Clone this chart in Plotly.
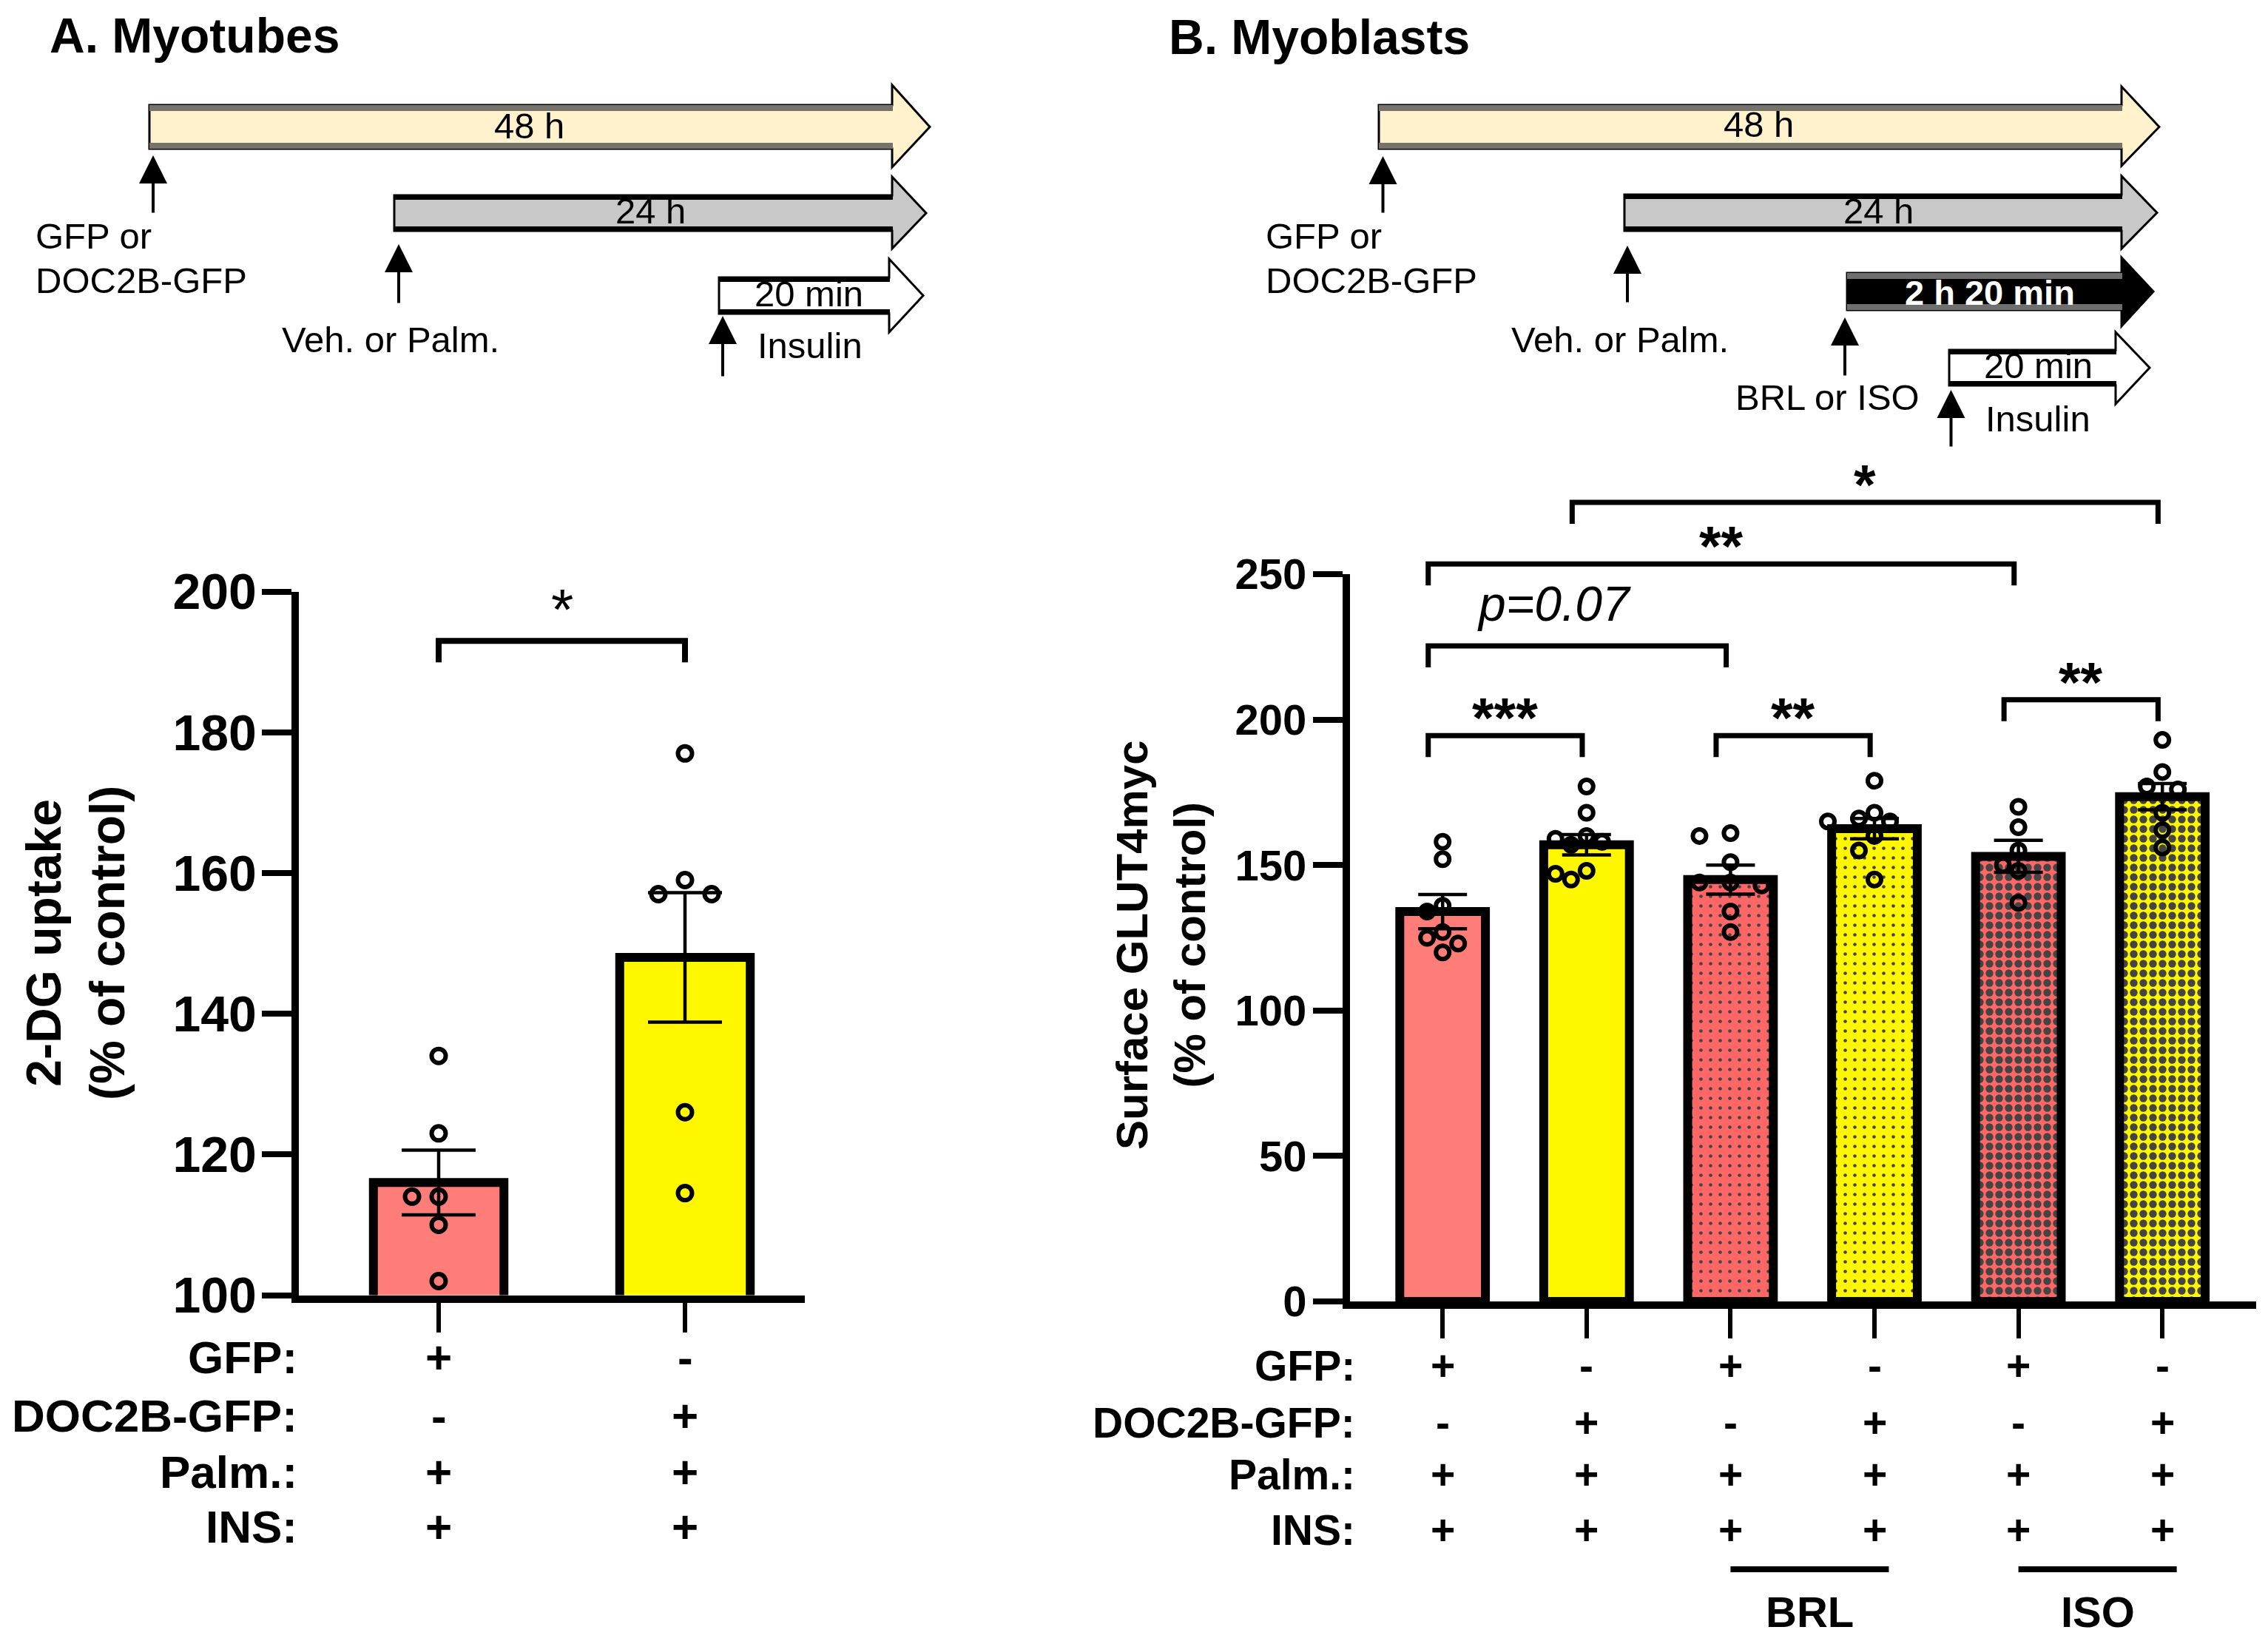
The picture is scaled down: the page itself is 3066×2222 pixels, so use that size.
import plotly.graph_objects as go

# ------------------------------------------------------------------ data
A_GROUPS = ["GFP", "DOC2B-GFP"]
A_MEAN = [116.0, 148.0]
A_SEM = [4.6, 9.2]
A_POINTS = [
    [134, 123, 114, 114, 110, 102],
    [177, 159, 157, 157, 126, 114.5],
]
A_TICKS = [100, 120, 140, 160, 180, 200]
A_ROW_LABELS = ["GFP:", "DOC2B-GFP:", "Palm.:", "INS:"]
A_ROW_SIGNS = [["+", "-"], ["-", "+"], ["+", "+"], ["+", "+"]]
A_SIG = [(0, 1, 193.0, "*")]

B_GROUPS = ["GFP", "DOC2B-GFP", "GFP BRL", "DOC2B-GFP BRL", "GFP ISO", "DOC2B-GFP ISO"]
B_MEAN = [134.0, 157.0, 145.0, 162.5, 153.0, 173.5]
B_SEM = [5.9, 3.5, 5.0, 3.5, 5.5, 4.5]
B_POINTS = [
    [158, 152, 136, 134, 127, 125, 123, 120],
    [177, 168, 160, 159, 158, 157, 148, 147, 145],
    [161, 160, 151, 144, 144, 143, 134, 127],
    [179, 168, 166, 165, 165, 160, 155, 145],
    [170, 163, 155, 150, 148, 137],
    [193, 182, 177, 176, 168, 162, 156],
]
B_TICKS = [0, 50, 100, 150, 200, 250]
B_ROW_LABELS = ["GFP:", "DOC2B-GFP:", "Palm.:", "INS:"]
B_ROW_SIGNS = [
    ["+", "-", "+", "-", "+", "-"],
    ["-", "+", "-", "+", "-", "+"],
    ["+", "+", "+", "+", "+", "+"],
    ["+", "+", "+", "+", "+", "+"],
]
B_TREATMENTS = [("BRL", 2, 3), ("ISO", 4, 5)]
B_SIG = [
    (0, 1, 194.5, "***"),
    (2, 3, 194.5, "**"),
    (4, 5, 206.8, "**"),
    (0, 2, 225.3, "p=0.07"),
    (0, 4, 253.5, "**"),
    (1, 5, 274.7, "*"),
]

A_TITLE = "A. Myotubes"
B_TITLE = "B. Myoblasts"
A_YTITLE = "2-DG uptake<br>(% of control)"
B_YTITLE = "Surface GLUT4myc<br>(% of control)"

# ------------------------------------------------------------------ style / layout
W, H = 3066, 2222
FONT = "Liberation Sans, Arial, Helvetica, sans-serif"
SALMON = "#FF7D78"
SALMON2 = "#FF6666"
YELLOW = "#FFF700"
A_COLORS = [SALMON, YELLOW]
B_COLORS = [SALMON, YELLOW, SALMON2, YELLOW, SALMON2, YELLOW]


def fx(x):
    return x / W


def fy(y):
    return 1 - y / H


# plot-area geometry in page pixels
A_LEFT, A_RIGHT, A_C0, A_STEP = 403.5, 1088.0, 593.0, 333.0
A_BOTTOM, A_TOP = 1750.5, 799.6
B_LEFT, B_RIGHT, B_C0, B_STEP = 1825.0, 3050.0, 1950.2, 194.6
B_BOTTOM, B_TOP, B_BTOP = 1759.0, 776.0, 618.7

A_PPV = (A_BOTTOM - A_TOP) / (A_TICKS[-1] - A_TICKS[0])
B_PPV = (B_BOTTOM - B_TOP) / (B_TICKS[-1] - B_TICKS[0])
A_XR = [(A_LEFT - A_C0) / A_STEP, (A_RIGHT - A_C0) / A_STEP]
B_XR = [(B_LEFT - B_C0) / B_STEP, (B_RIGHT - B_C0) / B_STEP]
B_BR_TOP = (B_BOTTOM - B_BTOP) / B_PPV


def swarm(vals, center, px_cat, px_val, diam, step):
    placed, xs = [], []
    cands = [0]
    for i in range(1, 12):
        cands += [-i, i]
    for v in vals:
        dx = 0
        for c in cands:
            dx = c * step
            if all((dx - pdx) ** 2 + ((v - pv) * px_val) ** 2 >= diam ** 2 for pdx, pv in placed):
                break
        placed.append((dx, v))
        xs.append(center + dx / px_cat)
    return xs


fig = go.Figure()

# ---------------- panel A
fig.add_trace(go.Bar(
    x=list(range(len(A_GROUPS))), y=A_MEAN, width=0.53,
    marker=dict(color=A_COLORS, line=dict(color="black", width=12)),
    error_y=dict(type="data", array=A_SEM, visible=True, color="black", thickness=4.5, width=50),
    xaxis="x", yaxis="y", hoverinfo="skip", showlegend=False,
))
for i, pts in enumerate(A_POINTS):
    fig.add_trace(go.Scatter(
        x=swarm(pts, i, A_STEP, A_PPV, 24, 36), y=pts, mode="markers",
        marker=dict(symbol="circle-open", color="black", size=19, line=dict(width=6)),
        xaxis="x", yaxis="y", hoverinfo="skip", showlegend=False, cliponaxis=False,
    ))

# ---------------- panel B
fig.add_trace(go.Bar(
    x=list(range(len(B_GROUPS))), y=B_MEAN, width=0.595,
    marker=dict(
        color=B_COLORS, line=dict(color="black", width=12),
        pattern=dict(shape=["", "", ".", ".", ".", "."], size=[13] * 6,
                     solidity=[0.1, 0.1, 0.1, 0.1, 0.5, 0.5],
                     fgcolor="black", fgopacity=1, fillmode="overlay"),
    ),
    error_y=dict(type="data", array=B_SEM, visible=True, color="black", thickness=4.5, width=33),
    xaxis="x2", yaxis="y2", hoverinfo="skip", showlegend=False,
))
for i, pts in enumerate(B_POINTS):
    fig.add_trace(go.Scatter(
        x=swarm(pts, i, B_STEP, B_PPV, 22, 21), y=pts, mode="markers",
        marker=dict(symbol="circle-open", color="black", size=18, line=dict(width=6)),
        xaxis="x2", yaxis="y2", hoverinfo="skip", showlegend=False, cliponaxis=False,
    ))


# significance brackets
def bracket_xy(sig, drop, lshift, rshift):
    xs, ys = [], []
    for i, j, y, _ in sig:
        xl, xr = i + lshift, j + rshift
        xs += [xl, xl, xr, xr, None]
        ys += [y - drop, y, y, y - drop, None]
    return xs, ys


ax_, ay_ = bracket_xy(A_SIG, 29 / A_PPV, 0.0, 0.0)
fig.add_trace(go.Scatter(x=ax_, y=ay_, mode="lines", line=dict(color="black", width=8),
                         xaxis="x", yaxis="y", hoverinfo="skip", showlegend=False))
bx_, by_ = bracket_xy(B_SIG, 29 / B_PPV, -0.1, -0.03)
fig.add_trace(go.Scatter(x=bx_, y=by_, mode="lines", line=dict(color="black", width=7),
                         xaxis="x3", yaxis="y3", hoverinfo="skip", showlegend=False))

annotations = []
shapes = []


def txt(text, x, y, size, xref="paper", yref="paper", xanchor="center", yanchor="middle",
        bold=False, italic=False, color="black", angle=0, xshift=0, yshift=0):
    annotations.append(dict(
        text=text, x=x, y=y, xref=xref, yref=yref, xanchor=xanchor, yanchor=yanchor,
        showarrow=False, textangle=angle, xshift=xshift, yshift=yshift,
        font=dict(family=FONT, size=size, color=color,
                  weight="bold" if bold else "normal",
                  style="italic" if italic else "normal"),
    ))


# star / p-value labels
for i, j, y, t in A_SIG:
    txt(t, (i + j) / 2, y, 78, xref="x", yref="y", yshift=60 - 0.23 * 78)
for i, j, y, t in B_SIG:
    mid = (i - 0.1 + j - 0.03) / 2
    if t.startswith("p"):
        txt(t, mid, y, 66, xref="x3", yref="y3", italic=True, yshift=57, xshift=-31)
    else:
        txt(t, mid, y, 76, xref="x3", yref="y3", bold=True, yshift=42 - 0.23 * 76)

# condition rows under the charts
A_ROW_Y = [1834, 1913, 1989, 2063]
for r, lab in enumerate(A_ROW_LABELS):
    txt(lab, fx(A_LEFT), fy(A_ROW_Y[r]), 62, xanchor="right", bold=True)
    for i, s in enumerate(A_ROW_SIGNS[r]):
        txt(s, i, fy(A_ROW_Y[r]), 62, xref="x", bold=True)

B_ROW_Y = [1846, 1923, 1993, 2068]
for r, lab in enumerate(B_ROW_LABELS):
    txt(lab, fx(1834), fy(B_ROW_Y[r]), 57, xanchor="right", bold=True)
    for i, s in enumerate(B_ROW_SIGNS[r]):
        txt(s, i, fy(B_ROW_Y[r]), 57, xref="x2", bold=True)

for name, i0, i1 in B_TREATMENTS:
    shapes.append(dict(type="line", xref="x2", yref="paper", x0=i0, x1=i1 + 0.1,
                       y0=fy(2121), y1=fy(2121), line=dict(color="black", width=8)))
    txt(name, (i0 + i1 + 0.1) / 2, fy(2178), 58, xref="x2", bold=True)

# titles
txt(A_TITLE, fx(65), fy(48), 66, xanchor="left", bold=True)
txt(B_TITLE, fx(1578), fy(50), 66, xanchor="left", bold=True)
txt(A_YTITLE, fx(102), fy(1275), 66, bold=True, angle=-90)
txt(B_YTITLE, fx(1569), fy(1277), 60, bold=True, angle=-90)


# ---------------- timeline diagrams
def big_arrow(x0, x1, xt, yb0, yb1, yh0, yh1, fill, edge, edge_w):
    ym = (yb0 + yb1) / 2
    pts = [(x0, yb0), (x1, yb0), (x1, yh0), (xt, ym), (x1, yh1), (x1, yb1), (x0, yb1)]
    path = "M " + " L ".join(f"{fx(x):.5f},{fy(y):.5f}" for x, y in pts) + " Z"
    shapes.append(dict(type="path", xref="paper", yref="paper", path=path, fillcolor=fill,
                       line=dict(color="black", width=3), layer="above"))
    for y in (yb0 + edge_w / 2, yb1 - edge_w / 2):
        shapes.append(dict(type="line", xref="paper", yref="paper", x0=fx(x0), x1=fx(x1 + 1),
                           y0=fy(y), y1=fy(y), line=dict(color=edge, width=edge_w), layer="above"))


def up_arrow(x, ytip, ytail):
    annotations.append(dict(
        xref="paper", yref="paper", x=fx(x), y=fy(ytip), ax=0, ay=ytail - ytip,
        axref="pixel", ayref="pixel", text="", showarrow=True, arrowhead=2,
        arrowsize=1.9, arrowwidth=4, arrowcolor="black",
    ))


CREAM, GREY = "#FFF2CC", "#C8C8C8"
EDGE_GREY = "#77736A"
DFS = 49

# panel A diagram
big_arrow(202, 1206, 1257, 142, 201, 115, 226, CREAM, EDGE_GREY, 8)
big_arrow(533, 1206, 1252, 264, 312, 239, 336, GREY, "black", 6)
big_arrow(972, 1202, 1248, 375, 424, 350, 449, "white", "black", 6)
txt("48 h", fx(715), fy(170), DFS)
txt("24 h", fx(879), fy(285), DFS)
txt("20 min", fx(1093), fy(397), DFS)
up_arrow(207, 210, 289)
up_arrow(539, 330, 411)
up_arrow(977, 427, 510)
txt("GFP or", fx(46), fy(319), DFS, xanchor="left")
txt("DOC2B-GFP", fx(46), fy(379), DFS, xanchor="left")
txt("Veh. or Palm.", fx(528), fy(459), DFS)
txt("Insulin", fx(1095), fy(467), DFS)

# panel B diagram
big_arrow(1864, 2868, 2919, 142, 201, 117, 224, CREAM, EDGE_GREY, 8)
big_arrow(2196, 2868, 2916, 263, 312, 238, 336, GREY, "black", 6)
big_arrow(2497, 2868, 2911, 369, 419, 348, 441, "black", "#6F6F6F", 8)
big_arrow(2635, 2860, 2906, 473, 521, 449, 546, "white", "black", 6)
txt("48 h", fx(2377), fy(168), DFS)
txt("24 h", fx(2539), fy(285), DFS)
txt("2 h 20 min", fx(2690), fy(396), 47, bold=True, color="white")
txt("20 min", fx(2755), fy(494), DFS)
up_arrow(1869.5, 211, 289)
up_arrow(2200, 332, 410)
up_arrow(2494, 429, 509)
up_arrow(2637.5, 527, 605)
txt("GFP or", fx(1709), fy(319), DFS, xanchor="left")
txt("DOC2B-GFP", fx(1709), fy(379), DFS, xanchor="left")
txt("Veh. or Palm.", fx(2190), fy(459), DFS)
txt("BRL or ISO", fx(2470), fy(537), DFS)
txt("Insulin", fx(2755), fy(566), DFS)

# ---------------- axes
tick_font_a = dict(family=FONT, size=68, color="black", weight="bold")
tick_font_b = dict(family=FONT, size=58, color="black", weight="bold")

common_x = dict(showgrid=False, zeroline=False, showline=True, linecolor="black", linewidth=10,
                ticks="outside", ticklen=40, tickwidth=6, tickcolor="black",
                showticklabels=False, fixedrange=True, automargin=False)
common_y = dict(showgrid=False, zeroline=False, showline=True, linecolor="black", linewidth=10,
                ticks="outside", ticklen=40, tickwidth=8, tickcolor="black",
                fixedrange=True, automargin=False)

fig.update_layout(
    autosize=True,
    margin=dict(l=0, r=0, t=0, b=0, pad=0, autoexpand=False),
    paper_bgcolor="white", plot_bgcolor="rgba(0,0,0,0)",
    showlegend=False, barmode="overlay",
    xaxis=dict(domain=[fx(A_LEFT), fx(A_RIGHT)], range=A_XR, anchor="y",
               tickvals=list(range(len(A_GROUPS))), **common_x),
    yaxis=dict(domain=[fy(A_BOTTOM), fy(A_TOP)], range=[A_TICKS[0], A_TICKS[-1]], anchor="x",
               tickvals=A_TICKS, tickfont=tick_font_a, ticklabelstandoff=-7, **common_y),
    xaxis2=dict(domain=[fx(B_LEFT), fx(B_RIGHT)], range=B_XR, anchor="y2",
                tickvals=list(range(len(B_GROUPS))), **common_x),
    yaxis2=dict(domain=[fy(B_BOTTOM), fy(B_TOP)], range=[B_TICKS[0], B_TICKS[-1]], anchor="x2",
                tickvals=B_TICKS, tickfont=tick_font_b, ticklabelstandoff=-3, **common_y),
    xaxis3=dict(domain=[fx(B_LEFT), fx(B_RIGHT)], range=B_XR, anchor="y3", visible=False,
                fixedrange=True),
    yaxis3=dict(domain=[fy(B_BOTTOM), fy(B_BTOP)], range=[B_TICKS[0], B_BR_TOP], anchor="x3",
                visible=False, fixedrange=True),
    annotations=annotations,
    shapes=shapes,
    font=dict(family=FONT, color="black"),
)

fig.write_html(
    "out.html",
    config={"displayModeBar": False, "staticPlot": True, "responsive": True},
    default_width="100vw",
    default_height="100vh",
    post_script=(
        "document.documentElement.style.margin='0';"
        "document.body.style.margin='0';document.body.style.overflow='hidden';"
        "document.documentElement.style.overflow='hidden';"
    ),
)
